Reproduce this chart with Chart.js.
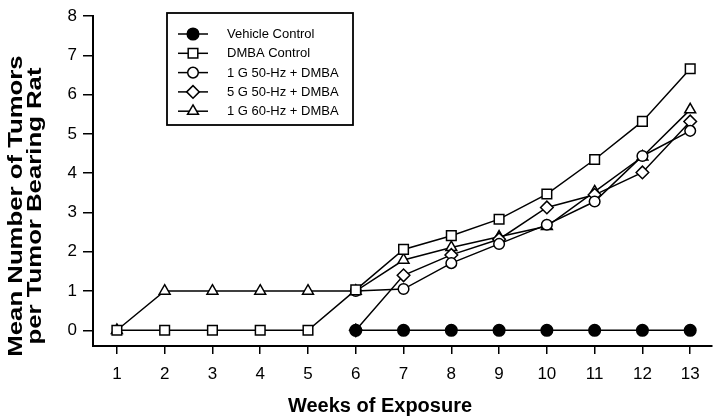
<!DOCTYPE html>
<html>
<head>
<meta charset="utf-8">
<script src="https://cdn.jsdelivr.net/npm/chart.js@4"></script>
<style>
  html, body { margin: 0; padding: 0; background: #fff; }
  #wrap { width: 720px; height: 420px; }
</style>
</head>
<body>
<div id="wrap"><canvas id="chart" width="720" height="420"></canvas></div>
<script>
(() => {
    'use strict';

    const weeks = [1, 2, 3, 4, 5, 6, 7, 8, 9, 10, 11, 12, 13];
    const yTicks = [0, 1, 2, 3, 4, 5, 6, 7, 8];
    const vehicleControl = [null, null, null, null, null, 0, 0, 0, 0, 0, 0, 0, 0];
    const dmbaControl = [0, 0, 0, 0, 0, 1.03, 2.06, 2.41, 2.83, 3.47, 4.35, 5.32, 6.66];
    const g1hz50 = [null, null, null, null, null, 1.0, 1.05, 1.71, 2.2, 2.69, 3.28, 4.44, 5.08];
    const g5hz50 = [null, null, null, null, null, 0, 1.4, 1.92, 2.32, 3.13, 3.45, 4.02, 5.32];
    const g1hz60 = [0, 1, 1, 1, 1, 1, 1.79, 2.11, 2.38, 2.65, 3.53, 4.42, 5.62];
    const labels = ['Vehicle Control', 'DMBA Control', '1 G 50-Hz + DMBA', '5 G 50-Hz + DMBA', '1 G 60-Hz + DMBA'];
    const xTitle = 'Weeks of Exposure';
    const yTitle = ['Mean Number of Tumors', 'per Tumor Bearing Rat'];

    const font = 'Liberation Sans, Arial, Helvetica, sans-serif';
    const points = (values) => weeks.map((week, i) => ({ x: week, y: values[i] }));

    const styles = [
        { pointStyle: 'circle', radius: 5.8, fill: '#000' },
        { pointStyle: 'rect', radius: 6.8, fill: '#fff' },
        { pointStyle: 'circle', radius: 5.3, fill: '#fff' },
        { pointStyle: 'rectRot', radius: 6.3, fill: '#fff' },
        { pointStyle: 'triangle', radius: 6.3, fill: '#fff' },
    ];
    const series = [vehicleControl, dmbaControl, g1hz50, g5hz50, g1hz60];

    const datasets = series.map((values, i) => ({
        label: labels[i],
        data: points(values),
        borderColor: '#000',
        borderWidth: 1.5,
        backgroundColor: styles[i].fill,
        pointStyle: styles[i].pointStyle,
        pointRadius: styles[i].radius,
        pointBorderWidth: 1.5,
        pointBorderColor: '#000',
        pointBackgroundColor: styles[i].fill,
        tension: 0,
        fill: false,
    }));

    const decorations = {
        id: 'decorations',
        afterDraw(chart) {
            const ctx = chart.ctx;
            ctx.save();
            // legend box
            ctx.strokeStyle = '#000';
            ctx.lineWidth = 1.8;
            ctx.strokeRect(167, 13, 186, 112);
            labels.forEach((label, i) => {
                const y = 34 + i * 19.3;
                ctx.beginPath();
                ctx.lineWidth = 1.5;
                ctx.moveTo(178, y);
                ctx.lineTo(208, y);
                ctx.stroke();
                ctx.fillStyle = styles[i].fill;
                ctx.strokeStyle = '#000';
                Chart.helpers.drawPoint(ctx, {
                    pointStyle: styles[i].pointStyle,
                    radius: styles[i].radius,
                    rotation: 0,
                    borderWidth: 1.5,
                }, 193, y);
                ctx.fillStyle = '#000';
                ctx.font = `13px ${font}`;
                ctx.textAlign = 'left';
                ctx.textBaseline = 'middle';
                ctx.fillText(label, 227, y + 0.5);
            });
            // axis titles
            ctx.fillStyle = '#000';
            ctx.font = `bold 20px ${font}`;
            ctx.textAlign = 'center';
            ctx.textBaseline = 'alphabetic';
            ctx.fillText(xTitle, 380, 412);

            ctx.translate(0, 206);
            ctx.rotate(-Math.PI / 2);
            ctx.scale(1.32, 1);
            ctx.font = `bold 19.5px ${font}`;
            ctx.fillText(yTitle[0], 0, 22);
            ctx.fillText(yTitle[1], 0, 40.5);
            ctx.restore();
        },
    };

    new Chart(document.getElementById('chart'), {
        type: 'line',
        data: { datasets },
        plugins: [decorations],
        options: {
            responsive: false,
            animation: false,
            events: [],
            layout: { padding: { top: 14, right: 7, left: 0, bottom: 0 } },
            plugins: { legend: { display: false }, tooltip: { enabled: false } },
            scales: {
                x: {
                    type: 'linear',
                    min: 0.5,
                    max: 13.45,
                    afterBuildTicks: (scale) => { scale.ticks = weeks.map((value) => ({ value })); },
                    afterFit: (scale) => { scale.height = 74; },
                    grid: { drawOnChartArea: false, drawTicks: true, tickLength: 8, color: '#000', lineWidth: 1.5 },
                    border: { display: true, color: '#000', width: 2 },
                    ticks: { color: '#000', font: { family: font, size: 17 }, padding: 10 },
                },
                y: {
                    min: -0.4,
                    max: 8,
                    afterBuildTicks: (scale) => { scale.ticks = yTicks.map((value) => ({ value })); },
                    afterFit: (scale) => { scale.width = 93; },
                    grid: { drawOnChartArea: false, drawTicks: true, tickLength: 10, color: '#000', lineWidth: 1.5 },
                    border: { display: true, color: '#000', width: 2 },
                    ticks: { color: '#000', font: { family: font, size: 17 }, padding: 6 },
                },
            },
        },
    });
})();
</script>
</body>
</html>
